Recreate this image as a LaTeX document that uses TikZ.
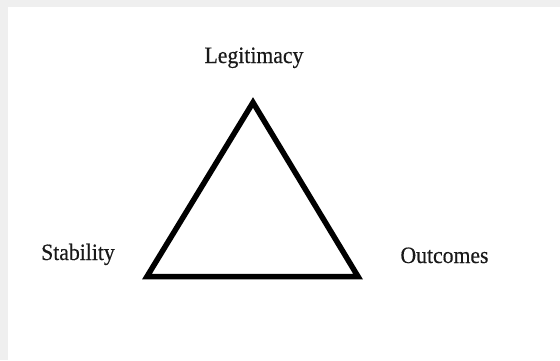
\documentclass[tikz,border=0pt]{standalone}
\usepackage{fontspec}
\setmainfont{Liberation Serif}
\newfontfamily\lblfont{Liberation Serif}[FakeBold=0.4]
\usetikzlibrary{positioning}
\definecolor{pagegray}{HTML}{EFEFEF}

\begin{document}
\begin{tikzpicture}[x=1pt,y=1pt,
    lbl/.style={inner sep=0pt,anchor=base,text=black!90,font=\lblfont\fontsize{21.7}{26}\selectfont},
    side/.style={line width=5.5pt,line join=miter}]

% page and margins
\fill[pagegray] (0,0) rectangle (560,360);
\fill[white] (8,0) rectangle (560,353);
\useasboundingbox (0,0) rectangle (560,360);

% corners of the triangle
\coordinate (top) at (253,257.5);
\coordinate (left) at (147,83.5);
\coordinate (right) at (358,83.5);

\draw[side] (top) -- (left) -- (right) -- cycle;

% labels
\node[lbl] (legit) at (254,297) {\scalebox{1}[1.08]{Legitimacy}};
\node[lbl] (stab) at (78,100) {\scalebox{1}[1.08]{Stability}};
\node[lbl] (outc) at (444.5,97) {\scalebox{1}[1.08]{Outcomes}};

\end{tikzpicture}
\end{document}
